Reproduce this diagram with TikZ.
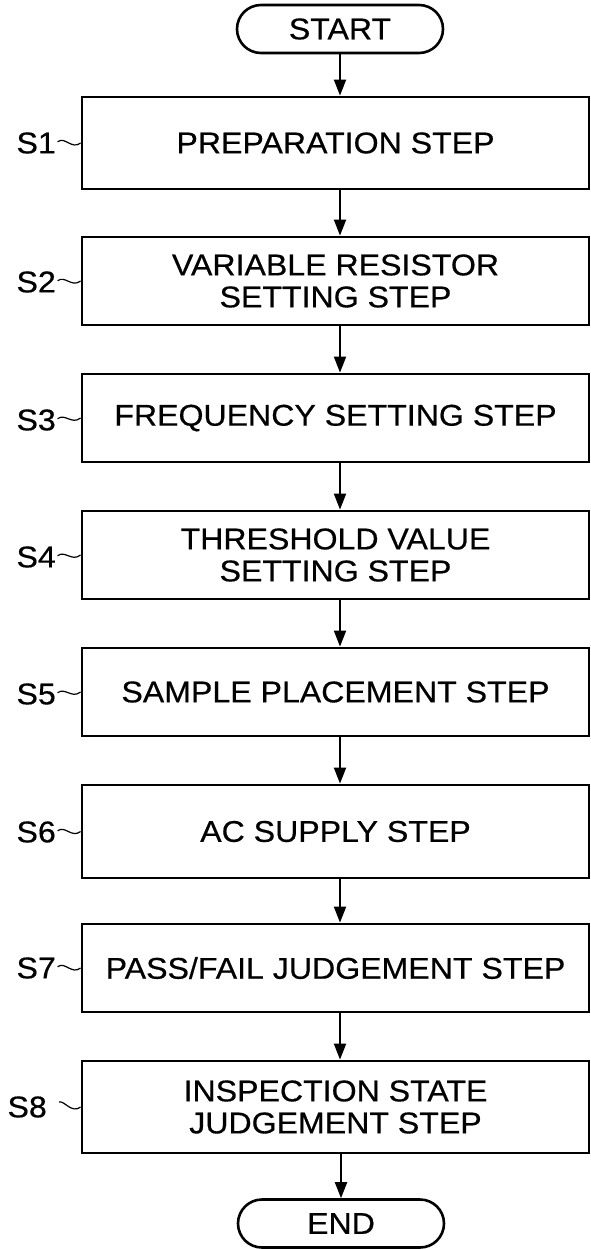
\documentclass[tikz,border=0pt]{standalone}
\usepackage{fontspec}
\setmainfont{Liberation Sans}[FakeStretch=1.07,FakeBold=0.5]
\usetikzlibrary{arrows.meta,shapes.misc}
\begin{document}
\begin{tikzpicture}[x=1pt,y=-1pt,
  txt/.style={font=\fontsize{30}{32}\selectfont},
  stepbox/.style={txt,draw,line width=2.8pt,minimum width=507pt,align=center,inner sep=0pt},
  term/.style={txt,draw,line width=2.6pt,rounded rectangle,minimum width=206pt,minimum height=48pt,inner sep=0pt},
  lab/.style={txt,inner sep=0pt,anchor=east},
  arr/.style={line width=2pt,-{Triangle[width=12pt,length=16pt]}},
  sq/.style={line width=1.2pt}]
\useasboundingbox (0,0) rectangle (591,1249);
\node[term] (start) at (340,29) {START};
\node[stepbox,minimum height=92pt] (s1) at (335.5,143) {PREPARATION STEP};
\node[stepbox,minimum height=88pt] (s2) at (335.5,281) {VARIABLE RESISTOR\\SETTING STEP};
\node[stepbox,minimum height=88pt] (s3) at (335.5,418) {FREQUENCY SETTING STEP};
\node[stepbox,minimum height=88pt] (s4) at (335.5,555) {THRESHOLD VALUE\\SETTING STEP};
\node[stepbox,minimum height=88pt] (s5) at (335.5,692) {SAMPLE PLACEMENT STEP};
\node[stepbox,minimum height=93pt] (s6) at (335.5,831.5) {AC SUPPLY STEP};
\node[stepbox,minimum height=88pt] (s7) at (335.5,968) {PASS/FAIL JUDGEMENT STEP};
\node[stepbox,minimum height=92pt] (s8) at (335.5,1107) {INSPECTION STATE\\JUDGEMENT STEP};
\node[term] (end) at (341,1223.5) {END};
\foreach \i/\y in {1/143,2/282,3/420,4/557,5/694,6/832,7/968}{
  \node[lab] (l\i) at (56,\y) {S\i};
  \draw[sq,shorten <=2pt] (l\i.east) .. controls +(9,-7) and +(-9,7) .. (s\i.west);
}
\node[lab] (l8) at (47,1107) {S8};
\draw[sq,shorten <=13pt] (l8.east) .. controls +(17,-7) and +(-9,7) .. (s8.west);
\draw[arr] (start.south) -- (s1.north -| start.south);
\foreach \a/\b in {s1/s2,s2/s3,s3/s4,s4/s5,s5/s6,s6/s7,s7/s8}{
  \draw[arr] (\a.south -| start.south) -- (\b.north -| start.south);
}
\draw[arr] (s8.south -| end.north) -- (end.north);
\end{tikzpicture}
\end{document}
